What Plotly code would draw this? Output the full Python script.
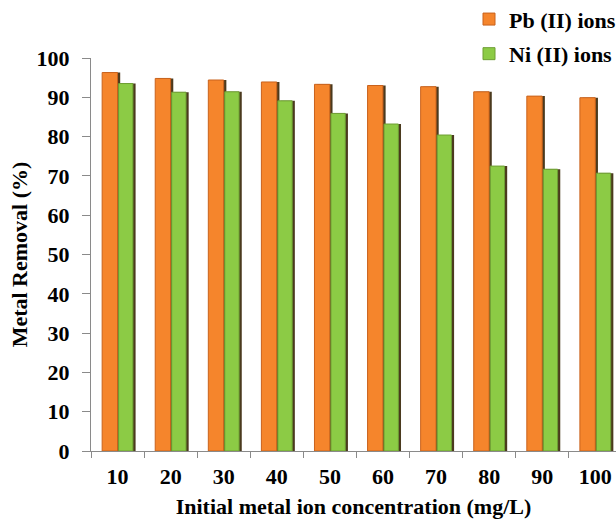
import plotly.graph_objects as go

# Initial metal ion concentration (mg/L)
concentrations = ["10", "20", "30", "40", "50", "60", "70", "80", "90", "100"]
# Removal efficiency (%)
pb_removal = [96.3, 94.8, 94.4, 93.9, 93.3, 93.0, 92.7, 91.4, 90.3, 89.9]
ni_removal = [93.5, 91.3, 91.4, 89.1, 85.9, 83.2, 80.4, 72.5, 71.7, 70.7]
y_ticks = [0, 10, 20, 30, 40, 50, 60, 70, 80, 90, 100]

SERIF = "Liberation Serif"
ORANGE = "#F5852C"
ORANGE_EDGE = "#C9621C"
GREEN = "#8CCB45"
GREEN_EDGE = "#6E9E33"
SHADOW = "#4B3A1E"
AXIS = "#8A8A8A"

fig = go.Figure()

# Pb(II): shadow strip then the bar itself
fig.add_trace(go.Bar(
    x=concentrations, y=pb_removal, offset=-0.24, width=0.29,
    marker=dict(color=SHADOW, line=dict(width=0)),
    showlegend=False, hoverinfo="skip"))
fig.add_trace(go.Bar(
    x=concentrations, y=pb_removal, offset=-0.29, width=0.29,
    name="Pb (II) ions", legendgroup="pb",
    marker=dict(color=ORANGE, line=dict(color=ORANGE_EDGE, width=1))))

# Ni(II): shadow strip then the bar itself
fig.add_trace(go.Bar(
    x=concentrations, y=ni_removal, offset=0.07, width=0.27,
    marker=dict(color=SHADOW, line=dict(width=0)),
    showlegend=False, hoverinfo="skip"))
fig.add_trace(go.Bar(
    x=concentrations, y=ni_removal, offset=0.02, width=0.27,
    name="Ni (II) ions", legendgroup="ni",
    marker=dict(color=GREEN, line=dict(color=GREEN_EDGE, width=1))))

tick_font = dict(family=SERIF, size=22, color="black", weight="bold")
title_font = dict(family=SERIF, size=22, color="black", weight="bold")

fig.update_layout(
    width=616, height=520,
    margin=dict(l=91, r=0, t=58, b=69, autoexpand=False),
    paper_bgcolor="white", plot_bgcolor="white",
    barmode="overlay",
    font=dict(family=SERIF, color="black"),
    legend=dict(
        x=0.72, y=1.152, xanchor="left", yanchor="top",
        traceorder="grouped", tracegroupgap=3,
        font=dict(family=SERIF, size=22, color="black", weight="bold"),
        bgcolor="rgba(0,0,0,0)", itemwidth=30,
    ),
    xaxis=dict(
        type="category", range=[-0.5, 9.39],
        showline=True, linecolor=AXIS, linewidth=1,
        ticks="outside", tickson="boundaries", ticklen=6, tickcolor=AXIS,
        showgrid=False, tickfont=tick_font, ticklabelstandoff=6,
        title=dict(text="Initial metal ion concentration (mg/L)",
                   font=title_font, standoff=10),
    ),
    yaxis=dict(
        range=[0, 100], tickvals=y_ticks,
        showline=True, linecolor=AXIS, linewidth=1,
        ticks="outside", ticklen=8, tickcolor=AXIS,
        showgrid=False, zeroline=False, tickfont=tick_font,
        ticklabelstandoff=8,
        title=dict(text="Metal Removal (%)", font=title_font, standoff=2),
    ),
)

fig.write_html("out.html")
